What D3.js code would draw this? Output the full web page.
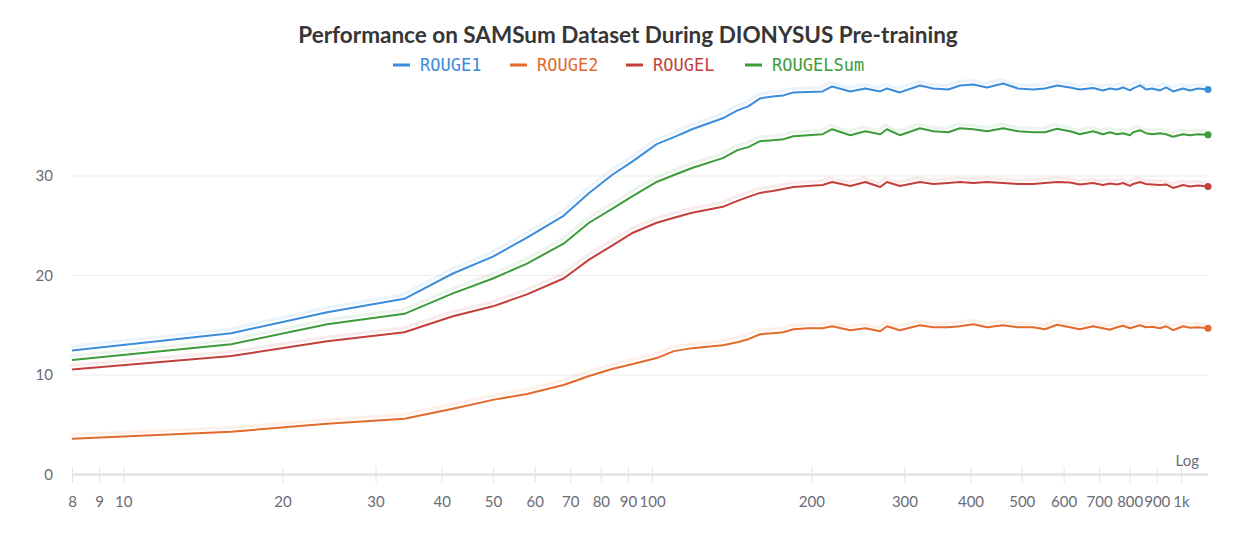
<!DOCTYPE html>
<meta charset="utf-8">
<style>
body {
  margin: 0;
  background: #fff;
  font-family: Lato, "Noto Sans", sans-serif;
}
.grid line {
  stroke: #ececec;
  stroke-width: 1;
}
.tick-label {
  fill: #6b6b76;
  font-size: 15px;
}
.series {
  fill: none;
  stroke-width: 2;
  stroke-linejoin: round;
}
.halo {
  fill: none;
  stroke-width: 3;
  stroke-opacity: 0.1;
  stroke-linejoin: round;
}
</style>
<body>
<script src="https://cdn.jsdelivr.net/npm/d3@7"></script>
<script>

var width = 1256,
    height = 536;

// training steps (x, log scale)
var steps = [8, 16, 24.3, 34, 42, 50, 58, 68, 76, 84, 92, 102, 110, 119, 136, 145, 152, 160, 169, 177, 185, 197, 210,
  219, 237, 253, 270, 278, 294, 321, 340, 363, 382, 405, 430, 461, 492, 525, 553, 583, 617, 644, 682, 712, 734,
  757, 777, 801, 812, 837, 859, 882, 913, 937, 966, 1009, 1040, 1077, 1125];

var rouge1 = [12.46, 14.2, 16.3, 17.66, 20.2, 21.9, 23.8, 26.0, 28.3, 30.1, 31.5, 33.2, 33.9, 34.7, 35.8, 36.6, 37.0, 37.8, 38.0, 38.1, 38.4, 38.45, 38.5,
  39.0, 38.5, 38.8, 38.5, 38.8, 38.4, 39.1, 38.8, 38.7, 39.1, 39.2, 38.9, 39.3, 38.8, 38.7, 38.8, 39.1, 38.9, 38.7, 38.85, 38.6, 38.8,
  38.7, 38.9, 38.6, 38.8, 39.1, 38.7, 38.8, 38.6, 38.9, 38.5, 38.8, 38.6, 38.8, 38.7];

var rouge2 = [3.6, 4.3, 5.1, 5.6, 6.6, 7.5, 8.1, 9.0, 9.9, 10.6, 11.1, 11.7, 12.4, 12.7, 13.0, 13.3, 13.6, 14.1, 14.2, 14.3, 14.6, 14.7, 14.7,
  14.9, 14.5, 14.7, 14.4, 14.9, 14.5, 15.0, 14.8, 14.8, 14.9, 15.1, 14.8, 15.0, 14.8, 14.8, 14.6, 15.05, 14.8, 14.6, 14.9, 14.7, 14.55,
  14.8, 14.95, 14.7, 14.8, 15.0, 14.8, 14.85, 14.7, 14.9, 14.5, 14.9, 14.75, 14.8, 14.7];

var rougeL = [10.55, 11.9, 13.4, 14.3, 15.9, 16.9, 18.1, 19.7, 21.6, 23.0, 24.3, 25.3, 25.8, 26.3, 26.9, 27.5, 27.9, 28.3, 28.5, 28.7, 28.9, 29.0, 29.1,
  29.4, 29.0, 29.4, 28.9, 29.4, 29.0, 29.4, 29.2, 29.3, 29.4, 29.3, 29.4, 29.3, 29.2, 29.2, 29.3, 29.4, 29.35, 29.15, 29.3, 29.1, 29.25,
  29.15, 29.3, 29.0, 29.2, 29.4, 29.2, 29.15, 29.1, 29.15, 28.8, 29.1, 28.95, 29.05, 28.95];

var rougeLSum = [11.5, 13.1, 15.1, 16.15, 18.2, 19.7, 21.2, 23.2, 25.3, 26.7, 28.0, 29.4, 30.1, 30.8, 31.8, 32.6, 32.9, 33.5, 33.6, 33.7, 34.0, 34.1, 34.2,
  34.7, 34.1, 34.5, 34.2, 34.7, 34.1, 34.8, 34.5, 34.4, 34.8, 34.7, 34.5, 34.8, 34.5, 34.4, 34.4, 34.75, 34.5, 34.2, 34.5, 34.2, 34.4,
  34.2, 34.3, 34.1, 34.4, 34.6, 34.3, 34.2, 34.3, 34.2, 33.95, 34.2, 34.1, 34.2, 34.15];

var seriesNames = ["ROUGE1", "ROUGE2", "ROUGEL", "ROUGELSum"];
var seriesColors = ["#3a8ddb", "#e4692c", "#c43f3b", "#3d9c3a"];
var seriesValues = [rouge1, rouge2, rougeL, rougeLSum];

var yTicks = [0, 10, 20, 30];
var xTicks = [8, 9, 10, 20, 30, 40, 50, 60, 70, 80, 90, 100, 200, 300, 400, 500, 600, 700, 800, 900, 1000];
var xTickLabels = ["8", "9", "10", "20", "30", "40", "50", "60", "70", "80", "90", "100", "200", "300", "400", "500", "600", "700", "800", "900", "1k"];

var svg = d3.select("body").append("svg")
    .attr("width", width)
    .attr("height", height);

var x = d3.scaleLog()
    .domain([8, 1125])
    .range([72, 1208]);

var y = d3.scaleLinear()
    .domain([0, 40])
    .range([474.5, 76.5]);

// title
svg.append("text")
    .attr("x", 628)
    .attr("y", 43)
    .attr("text-anchor", "middle")
    .style("font-size", "22.5px")
    .style("font-weight", "bold")
    .style("fill", "#363636")
    .text("Performance on SAMSum Dataset During DIONYSUS Pre-training");

// legend
var legendX = [393, 510, 626, 745];
var legend = svg.selectAll(".legend")
    .data(seriesNames)
  .enter().append("g")
    .attr("class", "legend")
    .attr("transform", function(d, i) { return "translate(" + legendX[i] + ",65)"; });

legend.append("line")
    .attr("x1", 0)
    .attr("x2", 17)
    .attr("stroke", function(d, i) { return seriesColors[i]; })
    .attr("stroke-width", 3);

legend.append("text")
    .attr("x", 27)
    .attr("y", 6)
    .style("font-family", "'DejaVu Sans Mono', monospace")
    .style("font-size", "17px")
    .style("fill", function(d, i) { return seriesColors[i]; })
    .text(function(d) { return d; });

// y grid + labels
var grid = svg.append("g").attr("class", "grid");
grid.selectAll("line")
    .data(yTicks.filter(function(d) { return d > 0; }))
  .enter().append("line")
    .attr("x1", 72)
    .attr("x2", 1208)
    .attr("y1", function(d) { return y(d); })
    .attr("y2", function(d) { return y(d); });

svg.selectAll(".ylab")
    .data(yTicks)
  .enter().append("text")
    .attr("class", "tick-label ylab")
    .attr("x", 53)
    .attr("y", function(d) { return y(d) + 5; })
    .attr("text-anchor", "end")
    .text(function(d) { return d; });

// x axis
var xAxis = d3.axisBottom(x)
    .tickValues(xTicks)
    .tickSize(8)
    .tickPadding(14)
    .tickFormat(function(d, i) { return xTickLabels[i]; });

var gx = svg.append("g")
    .attr("transform", "translate(0," + y(0) + ")")
    .call(xAxis);

gx.select(".domain").remove();
gx.selectAll(".tick line")
    .attr("y1", -8)
    .attr("stroke", "#e2e2e2");
gx.selectAll(".tick text")
    .attr("class", "tick-label")
    .style("font-family", "Lato, 'Noto Sans', sans-serif");

gx.append("line")
    .attr("x1", 72)
    .attr("x2", 1208)
    .attr("stroke", "#e6e6e6")
    .attr("stroke-width", 3);

svg.append("text")
    .attr("class", "tick-label")
    .attr("x", 1199)
    .attr("y", 466)
    .attr("text-anchor", "end")
    .text("Log");

// lines
var line = d3.line()
    .x(function(d) { return x(d[0]); })
    .y(function(d) { return y(d[1]); });

var plotData = seriesValues.map(function(vals) {
  return vals.map(function(v, i) { return [steps[i], v]; });
});

svg.selectAll(".halo")
    .data(plotData)
  .enter().append("path")
    .attr("class", "halo")
    .attr("transform", "translate(-2,-4)")
    .attr("stroke", function(d, i) { return seriesColors[i]; })
    .attr("d", line);

svg.selectAll(".series")
    .data(plotData)
  .enter().append("path")
    .attr("class", "series")
    .attr("stroke", function(d, i) { return seriesColors[i]; })
    .attr("d", line);

svg.selectAll(".endpoint")
    .data(plotData)
  .enter().append("circle")
    .attr("class", "endpoint")
    .attr("r", 3.5)
    .attr("cx", function(d) { return x(d[d.length - 1][0]); })
    .attr("cy", function(d) { return y(d[d.length - 1][1]); })
    .attr("fill", function(d, i) { return seriesColors[i]; });

</script>
